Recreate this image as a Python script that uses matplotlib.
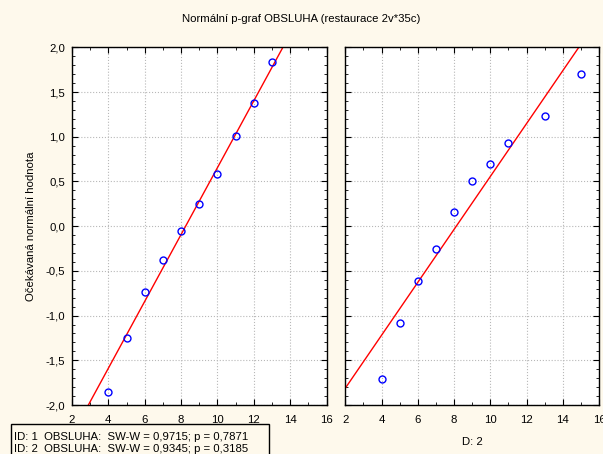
import matplotlib.pyplot as plt
from matplotlib.ticker import MultipleLocator, FuncFormatter
from matplotlib.patches import Rectangle

plt.rcParams['font.family'] = ['Liberation Sans', 'DejaVu Sans']

# observed values and expected normal values, group ID 1
obs_1 = [4, 5, 6, 7, 8, 9, 10, 11, 12, 13]
exp_1 = [-1.85, -1.25, -0.74, -0.38, -0.055, 0.25, 0.58, 1.01, 1.38, 1.84]
mean_1, sd_1 = 8.25, 2.675

# group ID 2
obs_2 = [4, 5, 6, 7, 8, 9, 10, 11, 13, 15]
exp_2 = [-1.71, -1.08, -0.61, -0.25, 0.16, 0.51, 0.70, 0.935, 1.23, 1.70]
mean_2, sd_2 = 8.125, 3.38

title = "Normální p-graf OBSLUHA (restaurace 2v*35c)"
ylabel = "Očekávaná normální hodnota"
legend_lines = ["ID: 1  OBSLUHA:  SW-W = 0,9715; p = 0,7871",
                "ID: 2  OBSLUHA:  SW-W = 0,9345; p = 0,3185"]

bg = "#fef9ec"
fs = 8.2
fig = plt.figure(figsize=(6.03, 4.54), dpi=100, facecolor=bg)

comma = FuncFormatter(lambda v, pos: f"{v:.1f}".replace(".", ",").replace("-0,0", "0,0"))


def panel(rect, obs, exp, mean, sd, show_y):
    ax = fig.add_axes(rect)
    ax.set_facecolor("white")
    ax.set_xlim(2, 16)
    ax.set_ylim(-2, 2)
    ax.xaxis.set_major_locator(MultipleLocator(2))
    ax.xaxis.set_minor_locator(MultipleLocator(1))
    ax.yaxis.set_major_locator(MultipleLocator(0.5))
    ax.yaxis.set_minor_locator(MultipleLocator(0.1))
    ax.yaxis.set_major_formatter(comma)
    ax.tick_params(which="both", direction="in", top=True, right=True,
                   labelsize=fs, colors="black")
    ax.tick_params(which="major", length=4, pad=5)
    ax.tick_params(axis="x", which="major", pad=7)
    ax.tick_params(which="minor", length=2.5)
    if not show_y:
        ax.tick_params(labelleft=False)
    ax.grid(True, which="major", color="#b8b8b8", linestyle=":", linewidth=0.8)
    for s in ax.spines.values():
        s.set_linewidth(1.0)
    # fitted normal line: z = (x - mean) / sd
    xs = [2, 16]
    ax.plot(xs, [(x - mean) / sd for x in xs], color="red", linewidth=1.0)
    ax.plot(obs, exp, linestyle="none", marker="o", markersize=5,
            markerfacecolor="none", markeredgecolor="blue", markeredgewidth=1.0)
    return ax


ax1 = panel([0.1194, 0.1079, 0.4221, 0.7879], obs_1, exp_1, mean_1, sd_1, True)
ax2 = panel([0.5726, 0.1079, 0.4208, 0.7879], obs_2, exp_2, mean_2, sd_2, False)
ax1.set_ylabel(ylabel, fontsize=fs, labelpad=7)

fig.text(0.5, 0.958, title, ha="center", va="center", fontsize=fs)
fig.text(0.783, 0.015, "D: 2", ha="center", va="bottom", fontsize=fs)

# legend box drawn over the x tick labels
box = Rectangle((11 / 603, -0.01), (269 - 11) / 603, (454 - 424) / 454 + 0.01,
                transform=fig.transFigure, facecolor=bg, edgecolor="black",
                linewidth=1.0, zorder=10)
fig.add_artist(box)
fig.text(14 / 603, 1 - 436.5 / 454, legend_lines[0], ha="left", va="center",
         fontsize=fs, zorder=11)
fig.text(14 / 603, 1 - 448.5 / 454, legend_lines[1], ha="left", va="center",
         fontsize=fs, zorder=11)

fig.savefig("out.png", dpi=100, facecolor=bg)
